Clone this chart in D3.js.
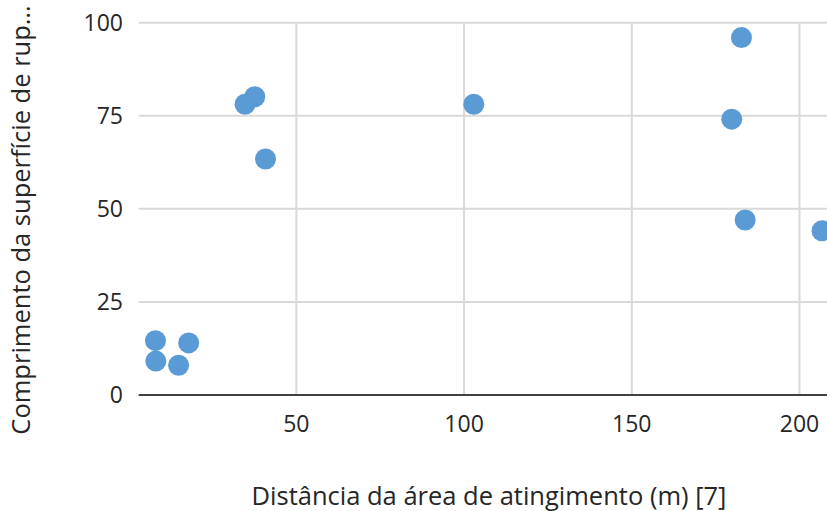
<!DOCTYPE html>
<html>
<head>
<meta charset="utf-8">
<script src="https://cdn.jsdelivr.net/npm/d3@7"></script>
<style>
  html, body { margin: 0; padding: 0; background: #fff; }
  svg { display: block; font-family: "Open Sans", "Noto Sans", sans-serif; }
</style>
</head>
<body>
<svg id="chart" width="827" height="511"></svg>
<script>
// Distance from impact area vs. rupture surface length
const distancia = [8, 8.1, 14.9, 17.9, 34.7, 37.6, 40.8, 102.9, 182.7, 179.8, 183.8, 206.7];
const comprimento = [14.6, 9.1, 8.0, 14.0, 78.1, 80.1, 63.4, 78.1, 96.0, 74.1, 47.0, 44.1];
const xTicks = [50, 100, 150, 200];
const yTicks = [0, 25, 50, 75, 100];
const xTitle = "Distância da área de atingimento (m) [7]";
const yTitle = "Comprimento da superfície de rup…";

(function () {
  const svg = d3.select("#chart");
  const H = 511;
  const plot = { left: 138.7, right: 827, top: 22.7, bottom: 395 };

  const x = d3.scaleLinear().domain([3, 208.2]).range([plot.left, plot.right]);
  const y = d3.scaleLinear().domain([0, 100]).range([plot.bottom, plot.top]);

  svg.append("defs").append("clipPath").attr("id", "plot-clip")
    .append("rect").attr("x", plot.left).attr("y", 0)
    .attr("width", plot.right - plot.left).attr("height", H);

  const grid = svg.append("g");
  grid.selectAll("line.h").data(yTicks.filter(d => d !== 0)).join("line")
    .attr("class", "h")
    .attr("x1", plot.left).attr("x2", plot.right)
    .attr("y1", d => y(d)).attr("y2", d => y(d))
    .attr("stroke", "#d9d9d9").attr("stroke-width", 2);
  grid.selectAll("line.v").data(xTicks).join("line")
    .attr("class", "v")
    .attr("x1", d => x(d)).attr("x2", d => x(d))
    .attr("y1", plot.top).attr("y2", plot.bottom)
    .attr("stroke", "#d9d9d9").attr("stroke-width", 2);

  // x axis baseline
  svg.append("line")
    .attr("x1", plot.left).attr("x2", plot.right).attr("y1", y(0)).attr("y2", y(0))
    .attr("stroke", "#404040").attr("stroke-width", 2);

  // y tick labels
  svg.append("g").selectAll("text").data(yTicks).join("text")
    .attr("x", 123).attr("y", d => y(d)).attr("dy", "0.35em")
    .attr("text-anchor", "end").attr("font-size", 23).attr("fill", "#262626")
    .text(d => d);

  // x tick labels
  svg.append("g").selectAll("text").data(xTicks).join("text")
    .attr("x", d => x(d)).attr("y", 424).attr("dy", "0.35em")
    .attr("text-anchor", "middle").attr("font-size", 23).attr("fill", "#262626")
    .text(d => d);

  // axis titles
  svg.append("text").attr("x", 489).attr("y", 505)
    .attr("text-anchor", "middle").attr("font-size", 25.5).attr("fill", "#262626")
    .text(xTitle);
  svg.append("text").attr("transform", "translate(30,220) rotate(-90)")
    .attr("text-anchor", "middle").attr("font-size", 25.5).attr("fill", "#262626")
    .text(yTitle);

  // points
  svg.append("g").attr("clip-path", "url(#plot-clip)")
    .selectAll("circle").data(distancia.map((d, i) => [d, comprimento[i]])).join("circle")
    .attr("cx", d => x(d[0])).attr("cy", d => y(d[1])).attr("r", 10.5)
    .attr("fill", "#5b9bd5");
})();
</script>
</body>
</html>
